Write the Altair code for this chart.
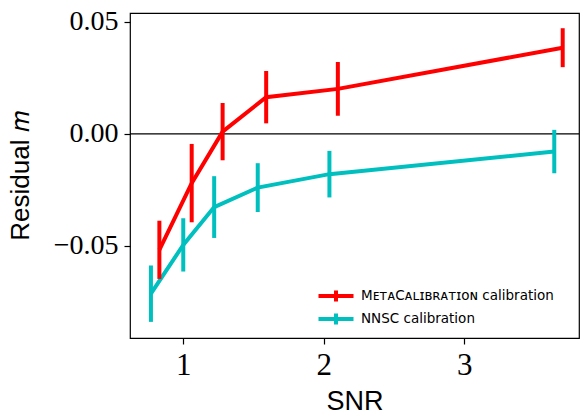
import altair as alt
import pandas as pd

# Residual multiplicative bias m versus signal-to-noise ratio
snr_meta = [0.83, 1.06, 1.28, 1.59, 2.10, 3.70]
m_meta = [-0.0518, -0.022, 0.001, 0.0164, 0.0201, 0.0385]
err_meta = [0.013, 0.0175, 0.0128, 0.0117, 0.012, 0.0087]

snr_nnsc = [0.77, 1.00, 1.22, 1.53, 2.04, 3.64]
m_nnsc = [-0.0714, -0.0496, -0.0327, -0.024, -0.018, -0.0079]
err_nnsc = [0.0126, 0.0119, 0.0138, 0.0109, 0.0104, 0.0097]

label_meta = "MᴇᴛᴀCᴀʟɪʙʀᴀᴛɪᴏɴ calibration"
label_nnsc = "NNSC calibration"

rows = []
for name, xs, ms, es in [(label_nnsc, snr_nnsc, m_nnsc, err_nnsc),
                         (label_meta, snr_meta, m_meta, err_meta)]:
    for x, m, e in zip(xs, ms, es):
        rows.append({"series": name, "snr": x, "m": m, "lo": m - e, "hi": m + e})
df = pd.DataFrame(rows)

x_scale = alt.Scale(domain=[0.621, 3.816], nice=False, zero=False)
y_scale = alt.Scale(domain=[-0.0912, 0.054], nice=False, zero=False)
color_scale = alt.Scale(domain=[label_meta, label_nnsc], range=["#ff0000", "#00bfbf"])

base = alt.Chart(df)

x_enc = alt.X("snr:Q", scale=x_scale,
              axis=alt.Axis(values=[1, 2, 3], format="d", title="SNR", grid=False))
y_enc = alt.Y("m:Q", scale=y_scale,
              axis=alt.Axis(values=[-0.05, 0, 0.05], format=".2f",
                            title="Residual 𝑚", grid=False))

zero_line = alt.Chart(pd.DataFrame({"z": [0]})).mark_rule(
    color="black", strokeWidth=1.2
).encode(y=alt.Y("z:Q", scale=y_scale))

# errorbar-style legend glyph: a horizontal stroke crossed by a short vertical one
lines = base.mark_line(strokeWidth=4).encode(
    x=x_enc,
    y=y_enc,
    color=alt.Color(
        "series:N", scale=color_scale, sort=[label_meta, label_nnsc],
        legend=alt.Legend(
            title=None, orient="none", legendX=197, legendY=274,
            symbolType="M-2.5,0H2.5M0,-0.8V0.8", symbolSize=196,
            symbolStrokeWidth=4, symbolFillColor="transparent",
            labelFont="DejaVu Sans", labelFontSize=13.5, labelColor="black",
            labelOffset=16, labelLimit=0, rowPadding=-12, padding=0,
        ),
    ),
    order=alt.Order("snr:Q"),
    detail="series:N",
)

bars = base.mark_rule(strokeWidth=4).encode(
    x="snr:Q",
    y="lo:Q",
    y2="hi:Q",
    color=alt.Color("series:N", scale=color_scale, legend=None),
)

chart = alt.layer(zero_line, lines, bars).properties(
    width=449, height=325,
    autosize=alt.AutoSizeParams(type="none"),
    padding={"left": 130, "top": 13, "right": 2, "bottom": 78},
).configure_view(
    stroke="black", strokeWidth=1.2
).configure_axis(
    domain=False, tickColor="black", tickSize=6, tickWidth=1.2,
    labelFont="Liberation Serif", labelColor="black",
    titleFont="Liberation Sans", titleFontWeight="normal", titleColor="black",
).configure_axisY(
    labelFontSize=28, labelPadding=6, titleFontSize=26, titlePadding=20,
).configure_axisX(
    labelFontSize=31, labelPadding=6, titleFontSize=27, titlePadding=8,
)

chart.save("out.html", embed_options={"renderer": "svg", "actions": False})
